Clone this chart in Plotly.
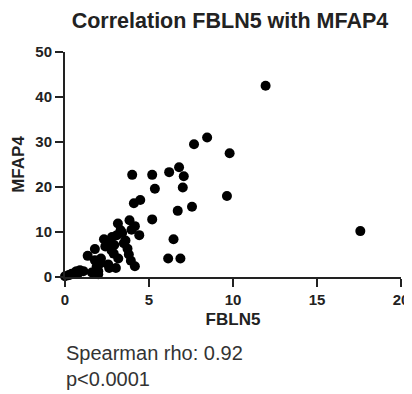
import plotly.graph_objects as go

fbln5 = [11.94, 17.58, 8.46, 7.68, 9.80, 9.64, 6.79, 6.20, 7.07, 7.01, 5.19, 4.00, 5.35, 4.48, 4.10,
         7.56, 6.71, 5.19, 3.15, 3.84, 4.16, 3.96, 3.31, 4.42, 3.09, 2.32, 3.60, 2.57, 2.93, 1.78,
         3.72, 6.46, 2.77, 1.35, 3.80, 3.17, 2.14, 1.78, 3.92, 6.14, 6.87, 2.57, 4.16, 2.63, 3.03,
         1.88, 1.98, 1.98, 0.89, 0.69, 1.09, 0.40, 0.20, 0.00, 0.60, 2.40, 2.80, 3.40, 2.10, 1.95,
         3.50, 2.90, 1.60, 0.30, 0.80]
mfap4 = [42.5, 10.2, 31.0, 29.5, 27.5, 18.0, 24.4, 23.3, 22.4, 19.9, 22.7, 22.7, 19.6, 17.1, 16.4,
         15.6, 14.7, 12.8, 11.9, 12.6, 11.3, 10.5, 10.4, 9.3, 9.3, 8.4, 8.1, 7.3, 7.1, 6.2,
         6.3, 8.4, 5.9, 4.7, 5.0, 4.1, 4.1, 3.7, 3.6, 4.1, 4.1, 2.8, 2.4, 2.0, 2.0,
         2.2, 1.3, 0.6, 1.5, 1.3, 1.3, 0.7, 0.4, 0.15, 1.0, 6.8, 8.9, 9.8, 3.0, 2.8,
         7.5, 5.2, 1.0, 0.5, 0.9]

x_ticks = [0, 5, 10, 15, 20]
y_ticks = [0, 10, 20, 30, 40, 50]

FAM = "Arial, Liberation Sans, sans-serif"

fig = go.Figure(go.Scatter(
    x=fbln5, y=mfap4, mode="markers",
    marker=dict(color="black", size=10),
    cliponaxis=False, showlegend=False,
))

tick_font = dict(family=FAM, size=15, color="#222", weight="bold")
title_font = dict(family=FAM, size=17, color="#222", weight="bold")
# page has an 8px body margin, so the figure is 404x386 and offsets are relative to (8,8)
fig.update_layout(
    width=404, height=386,
    margin=dict(l=57, r=11, t=44, b=117),
    plot_bgcolor="white", paper_bgcolor="white",
    title=dict(text="<b>Correlation FBLN5 with MFAP4</b>", xref="paper", x=0.491, xanchor="center",
               y=0.968, yanchor="middle",
               font=dict(family=FAM, size=21.5, color="#222")),
    xaxis=dict(range=[0, 20], tickvals=x_ticks, showgrid=False, zeroline=False, automargin=False,
               showline=True, linecolor="#222", linewidth=2, ticks="outside", ticklen=8,
               tickwidth=2, tickcolor="#222", tickfont=tick_font,
               title=dict(text="<b>FBLN5</b>", font=title_font, standoff=6)),
    yaxis=dict(range=[0, 50], tickvals=y_ticks, showgrid=False, zeroline=False, automargin=False,
               showline=True, linecolor="#222", linewidth=2, ticks="outside", ticklen=8,
               tickwidth=2, tickcolor="#222", tickfont=tick_font,
               title=dict(text="<b>MFAP4</b>", font=title_font, standoff=6)),
    annotations=[
        dict(text="Spearman rho: 0.92<br>p<0.0001", xref="paper", yref="paper",
             x=-0.003, y=-0.395, xanchor="left", yanchor="middle", align="left", showarrow=False,
             font=dict(family=FAM, size=20, color="#333")),
    ],
)

fig.write_html("out.html")
